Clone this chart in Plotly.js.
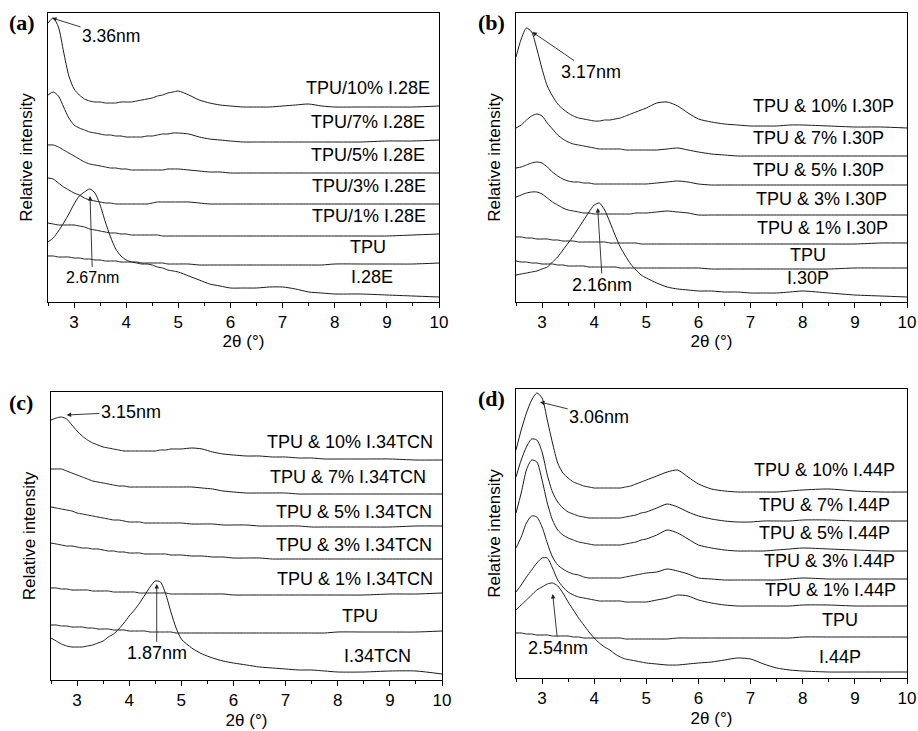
<!DOCTYPE html>
<html>
<head>
<meta charset="utf-8">
<script src="https://cdn.plot.ly/plotly-3.0.1.min.js"></script>
<style>html,body{margin:0;padding:0;background:#fff;}#chart{width:918px;height:731px;}</style>
</head>
<body>
<div id="chart"></div>
<script>
// Shared 2-theta grid (degrees)
const X = [2.5,2.6,2.7,2.8,2.9,3.0,3.1,3.2,3.3,3.4,3.5,3.6,3.7,3.8,3.9,4.0,4.1,4.2,4.3,4.4,4.5,4.6,4.7,4.8,4.9,5.0,5.2,5.4,5.6,5.8,6.0,6.25,6.5,6.75,7.0,7.25,7.5,7.75,8.0,8.5,9.0,9.5,10.0];
const xTicks = [3,4,5,6,7,8,9,10];

// Panel (a) – stacked relative intensities
const a_labels = ["TPU/10% I.28E","TPU/7% I.28E","TPU/5% I.28E","TPU/3% I.28E","TPU/1% I.28E","TPU","I.28E"];
const a_10 = [279,284,275,250,226,213,207,203,201,200,200,199,199,199,200,200,200,201,202,203,204,206,207,209,210,211,207,202,199,197,196,195,195,195,196,197,198,196,195,195,195,195,196];
const a_7  = [207,210,206,195,184,177,174,172,170,169,168,167,167,166,166,165,165,165,165,166,166,167,168,168,169,169,168,165,163,162,161,160,160,160,160,160,160,160,160,160,161,161,162];
const a_5  = [157,157,155,152,149,146,143,140,138,137,136,135,134,134,133,133,132,132,132,132,132,132,132,133,133,133,132,131,130,130,129,129,129,129,129,129,129,129,129,129,129,129,129];
const a_3  = [124,123,119,115,112,109,107,104,102,101,100,99,99,98,98,98,98,98,98,98,99,100,100,100,100,100,100,99,98,98,98,98,98,98,98,98,98,98,98,98,98,98,98];
const a_1  = [79,78,77,77,77,77,76,75,73,72,71,70,69,69,68,68,67,67,67,67,67,67,66,66,66,66,66,66,66,66,66,66,66,66,66,66,66,66,66,66,66,67,68];
const a_tpu= [46,46,45,45,45,44,44,43,43,42,42,41,41,41,40,40,40,40,39,39,39,39,39,38,38,38,38,37,37,37,37,37,37,37,37,37,37,37,38,38,38,38,39];
const a_clay=[60,64,71,79,88,98,106,110,113,109,97,80,65,53,46,42,40,39,38,38,37,35,34,32,31,30,26,22,18,16,14,14,14,15,15,13,10,9,8,8,7,6,5];

// Panel (b)
const b_labels = ["TPU & 10% I.30P","TPU & 7% I.30P","TPU & 5% I.30P","TPU & 3% I.30P","TPU & 1% I.30P","TPU","I.30P"];
const b_10 = [245,263,274,270,253,233,216,206,198,193,189,186,184,183,182,181,181,182,182,183,184,186,188,190,192,194,199,200,196,189,183,180,178,177,176,176,176,177,177,176,175,175,174];
const b_7  = [174,177,182,186,188,186,179,173,167,163,160,158,157,156,155,154,153,153,153,153,153,152,152,152,152,152,152,153,154,152,150,148,147,146,146,146,146,146,146,146,146,146,146];
const b_5  = [134,135,137,139,140,139,135,130,126,123,121,120,120,119,119,118,118,118,118,118,118,118,118,118,118,118,119,120,121,120,118,117,117,117,117,117,117,117,117,117,117,117,117];
const b_3  = [105,107,109,110,110,108,104,100,97,94,92,91,90,89,89,88,88,88,88,88,88,88,88,89,89,89,90,91,90,89,87,87,87,87,87,87,87,87,87,87,87,87,87];
const b_1  = [65,65,64,64,63,63,63,62,62,61,61,61,60,60,60,60,60,60,59,59,59,59,59,59,58,58,58,58,58,58,58,58,58,58,58,58,58,58,58,58,58,59,59];
const b_tpu= [41,40,40,39,39,38,38,38,37,37,36,36,36,36,35,35,35,35,35,35,34,34,34,34,34,34,34,34,34,34,34,33,33,33,33,33,33,33,33,33,34,34,34];
const b_clay=[27,28,29,30,31,33,35,40,45,52,59,66,74,82,90,97,99,92,80,67,55,46,38,32,27,24,19,15,13,12,11,11,10,10,9,9,9,10,11,9,7,6,5];

// Panel (c)
const c_labels = ["TPU & 10% I.34TCN","TPU & 7% I.34TCN","TPU & 5% I.34TCN","TPU & 3% I.34TCN","TPU & 1% I.34TCN","TPU","I.34TCN"];
const c_10 = [260,262,263,261,255,249,244,240,237,235,233,232,231,230,229,229,229,229,229,229,229,230,230,231,231,231,232,231,228,226,225,224,224,223,223,222,222,221,221,221,221,220,220];
const c_7  = [211,211,211,209,207,205,203,201,199,198,197,196,195,194,194,193,193,193,193,193,193,193,193,193,193,193,193,192,191,189,188,187,187,187,187,186,186,186,186,186,186,186,186];
const c_5  = [173,172,171,170,169,167,166,165,164,163,162,161,160,160,159,158,158,158,157,157,157,157,157,157,157,157,156,156,156,155,155,155,154,154,154,154,153,153,153,153,153,154,154];
const c_3  = [137,136,135,134,134,133,132,132,131,131,130,129,129,128,128,127,127,127,126,126,126,126,126,125,125,125,124,124,123,123,122,122,122,121,121,121,121,121,121,121,121,121,121];
const c_1  = [92,92,91,91,90,90,90,90,89,89,89,89,88,88,88,88,88,87,87,87,87,87,87,86,86,86,86,86,86,86,85,85,85,85,85,85,85,85,85,85,86,86,87];
const c_tpu= [55,55,54,54,53,53,53,52,52,51,51,51,50,50,50,49,49,49,49,48,48,48,48,48,47,47,47,47,47,47,47,47,47,47,47,47,47,47,48,48,48,48,49];
const c_clay=[42,39,36,34,33,33,33,34,35,37,39,43,46,51,57,64,70,77,85,93,99,98,86,68,52,41,32,26,22,19,17,15,13,12,11,10,10,9,8,8,9,9,6];

// Panel (d)
const d_labels = ["TPU & 10% I.44P","TPU & 7% I.44P","TPU & 5% I.44P","TPU & 3% I.44P","TPU & 1% I.44P","TPU","I.44P"];
const d_10 = [228,248,265,278,285,280,258,235,215,205,200,196,194,192,191,190,190,190,190,190,190,191,192,194,196,198,202,206,208,201,194,189,187,186,186,186,186,187,188,189,187,186,186];
const d_7  = [201,218,231,239,238,226,203,186,176,170,166,164,162,161,160,160,160,160,160,160,160,161,162,163,165,166,170,174,171,166,162,159,157,156,156,157,157,157,158,158,157,157,157];
const d_5  = [165,185,208,218,216,198,175,158,148,143,140,138,136,135,134,133,133,133,133,133,133,134,135,136,138,139,143,148,145,139,133,130,128,127,127,127,128,129,130,129,128,127,127];
const d_3  = [130,141,155,162,161,151,135,121,113,109,106,104,103,101,100,100,100,100,100,100,100,101,102,103,104,105,106,109,107,104,100,99,98,98,98,98,98,99,100,99,99,99,99];
const d_1  = [86,93,101,108,115,120,120,110,98,91,86,83,81,80,79,78,77,77,77,77,77,76,76,76,76,76,78,80,83,82,78,75,73,72,72,72,72,72,73,73,72,72,72];
const d_tpu= [45,45,44,44,43,43,43,42,42,42,42,41,41,40,40,40,40,40,40,40,40,39,39,39,39,39,39,39,40,40,40,40,40,40,40,40,40,40,41,41,41,41,41];
const d_clay=[68,73,78,83,88,91,94,95,92,85,76,68,60,53,46,40,35,31,28,24,21,19,18,17,16,15,14,13,13,14,15,16,18,20,19,14,10,8,7,6,6,6,6];

// d-spacing annotations
const d_spacing = ["3.36nm","2.67nm","3.17nm","2.16nm","3.15nm","1.87nm","3.06nm","2.54nm"];
const panel_letters = ["(a)","(b)","(c)","(d)"];

// ---------- layout / drawing ----------
const W = 918, H = 731;
const FONT = '"Liberation Sans", Arial, Helvetica, sans-serif';
const panels = [
  {box:[48,439,13,302], ymax:289, series:[a_10,a_7,a_5,a_3,a_1,a_tpu,a_clay], labels:a_labels, titleStandoff:0,
   labelPos:[[9.866,214,'right'],[9.77,180,'right'],[9.77,147,'right'],[9.789,116,'right'],[9.789,86,'right'],[8.638,55,'center'],[8.715,25,'center']],
   arrows:[{t:0, head:[2.577,284], txt:[3.71,265.5], size:17.5},
           {t:1, head:[3.306,106], txt:[3.354,25], size:16}],
   letter:[7,22]},
  {box:[516,907,13,302], ymax:289, series:[b_10,b_7,b_5,b_3,b_1,b_tpu,b_clay], labels:b_labels, titleStandoff:0,
   labelPos:[[9.79,196,'right'],[9.598,164,'right'],[9.598,132,'right'],[9.655,103,'right'],[9.674,74,'right'],[8.101,47,'center'],[8.101,24,'center']],
   arrows:[{t:2, head:[2.813,270], txt:[3.935,230], size:18},
           {t:3, head:[4.067,94], txt:[4.159,17], size:18}],
   letter:[476,22]},
  {box:[51,442,392,680], ymax:288, series:[c_10,c_7,c_5,c_3,c_1,c_tpu,c_clay], labels:c_labels, titleStandoff:4,
   labelPos:[[9.866,238,'right'],[9.732,203,'right'],[9.847,168,'right'],[9.847,135,'right'],[9.866,101,'right'],[8.427,64,'center'],[8.754,24,'center']],
   arrows:[{t:4, head:[2.80,265], txt:[4.031,268], size:18},
           {t:5, head:[4.528,96], txt:[4.528,26.7], size:18}],
   letter:[7,402]},
  {box:[516,907,389,678], ymax:289, series:[d_10,d_7,d_5,d_3,d_1,d_tpu,d_clay], labels:d_labels, titleStandoff:4,
   labelPos:[[9.809,208,'right'],[9.713,173,'right'],[9.713,145,'right'],[9.809,117,'right'],[9.828,88,'right'],[8.715,58,'center'],[8.715,21,'center']],
   arrows:[{t:6, head:[2.96,276], txt:[4.096,261.3], size:18},
           {t:7, head:[3.204,84], txt:[3.312,29.7], size:18}],
   letter:[476,399]}
];

const data = [];
const layout = {
  width: W, height: H, margin:{l:0,r:0,t:0,b:0},
  paper_bgcolor:'#fff', plot_bgcolor:'#fff', showlegend:false,
  font:{family:FONT, color:'#000', size:17},
  annotations:[]
};

panels.forEach((p, i) => {
  const n = i === 0 ? '' : String(i+1);
  const xa = 'x' + n, ya = 'y' + n;
  const [l, r, t, b] = p.box;
  layout['xaxis' + n] = {
    domain:[l/W, r/W], anchor: ya, range:[2.5,10], tickvals:xTicks, ticktext:xTicks.map(String),
    ticks:'outside', ticklen:5, tickwidth:1, tickcolor:'#000',
    minor:{tickvals:[2.5,3.5,4.5,5.5,6.5,7.5,8.5,9.5], ticks:'outside', ticklen:3, tickwidth:1, tickcolor:'#000'},
    showline:true, linecolor:'#000', linewidth:1, mirror:true, showgrid:false, zeroline:false,
    tickfont:{size:17, family:FONT, color:'#000'},
    title:{text:'2θ (°)', font:{size:17, family:FONT, color:'#000'}, standoff:p.titleStandoff}
  };
  layout['yaxis' + n] = {
    domain:[1 - b/H, 1 - t/H], anchor: xa, range:[0, p.ymax],
    showticklabels:false, ticks:'', showline:true, linecolor:'#000', linewidth:1, mirror:true,
    showgrid:false, zeroline:false,
    title:{text:'Relative intensity', font:{size:17, family:FONT, color:'#000'}, standoff:10}
  };
  p.series.forEach((s, k) => {
    data.push({x:X, y:s, xaxis:xa, yaxis:ya, type:'scatter', mode:'lines', name:p.labels[k],
      line:{color:'#1a1a1a', width:1, shape:'spline', smoothing:0.7}, hoverinfo:'x+y+name'});
  });
  p.labelPos.forEach((lp, k) => {
    layout.annotations.push({xref:xa, yref:ya, x:lp[0], y:lp[1], text:p.labels[k], showarrow:false,
      xanchor:lp[2], yanchor:'middle', font:{size:18, family:FONT, color:'#000'}});
  });
  p.arrows.forEach(a => {
    // text sits at the arrow tail; the arrow runs from the text box to the peak
    layout.annotations.push({xref:xa, yref:ya, x:a.head[0], y:a.head[1], axref:xa, ayref:ya,
      ax:a.txt[0], ay:a.txt[1], text:d_spacing[a.t], showarrow:true, arrowhead:2, arrowsize:1,
      arrowwidth:0.9, arrowcolor:'#222', standoff:0, startstandoff:0,
      font:{size:a.size, family:FONT, color:'#000'}});
  });
  layout.annotations.push({xref:'paper', yref:'paper', x:p.letter[0]/W, y:1 - p.letter[1]/H,
    text:panel_letters[i], showarrow:false, xanchor:'left', yanchor:'middle',
    font:{size:22, family:'"Liberation Serif", "Times New Roman", serif', color:'#000', weight:'bold'}});
});

Plotly.newPlot('chart', data, layout, {displayModeBar:false, staticPlot:true});
</script>
</body>
</html>
